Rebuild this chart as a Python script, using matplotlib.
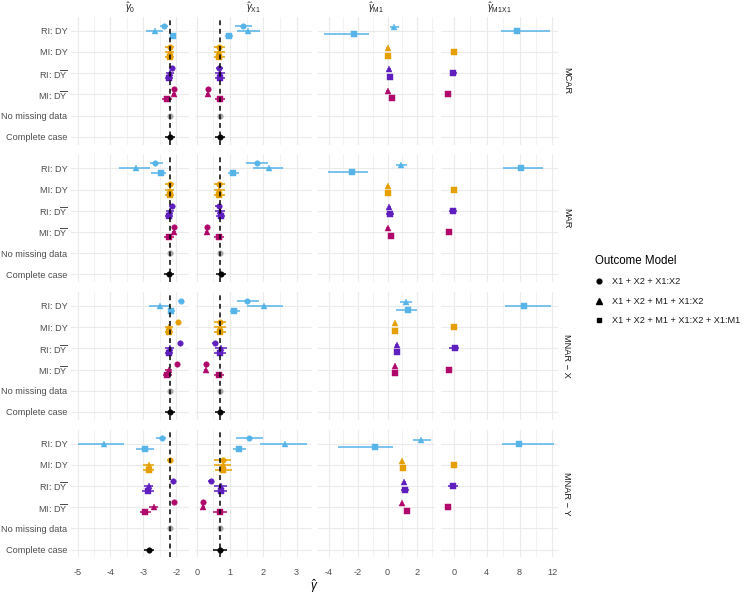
import numpy as np
import matplotlib
matplotlib.use("Agg")
import matplotlib.pyplot as plt
from matplotlib.lines import Line2D

plt.rcParams['font.family'] = ['Liberation Sans', 'DejaVu Sans']
plt.rcParams['mathtext.fontset'] = 'custom'
plt.rcParams['mathtext.rm'] = 'Liberation Sans'
plt.rcParams['mathtext.it'] = 'Liberation Sans:italic'
plt.rcParams['mathtext.bf'] = 'Liberation Sans:bold'

N = np.nan

mechanisms = ['MCAR', 'MAR', 'MNAR \u2212 X', 'MNAR \u2212 Y']
methods = ['RI: DY', 'MI: DY', r'RI: D$\overline{\mathrm{Y}}$', r'MI: D$\overline{\mathrm{Y}}$',
           'No missing data', 'Complete case']
models = ['X1 + X2 + X1:X2', 'X1 + X2 + M1 + X1:X2', 'X1 + X2 + M1 + X1:X2 + X1:M1']
params = [r'$\hat{\gamma}_{0}$', r'$\hat{\gamma}_{\mathrm{X1}}$',
          r'$\hat{\gamma}_{\mathrm{M1}}$', r'$\hat{\gamma}_{\mathrm{M1X1}}$']
true_values = [-2.2, 0.7, N, N]

# gamma_0 : [mechanism][method][model]
g0_est = [
    [[-2.38, -2.66, -2.10], [-2.20, -2.20, -2.20], [-2.13, -2.20, -2.22], [-2.08, -2.08, -2.28], [-2.20, N, N], [-2.20, N, N]],
    [[-2.64, -3.23, -2.48], [-2.20, -2.20, -2.20], [-2.12, -2.20, -2.22], [-2.08, -2.07, -2.22], [-2.20, N, N], [-2.22, N, N]],
    [[-1.87, -2.51, -2.15], [-1.95, -2.22, -2.22], [-1.90, -2.20, -2.22], [-1.97, -2.23, -2.27], [-2.20, N, N], [-2.20, N, N]],
    [[-2.42, -4.19, -2.96], [-2.20, -2.84, -2.84], [-2.10, -2.84, -2.86], [-2.07, -2.69, -2.94], [-2.20, N, N], [-2.84, N, N]],
]
g0_lo = [
    [[-2.51, -2.91, -2.20], [-2.33, -2.33, -2.33], [-2.22, -2.32, -2.34], [-2.13, -2.14, -2.42], [-2.25, N, N], [-2.35, N, N]],
    [[-2.81, -3.75, -2.76], [-2.33, -2.33, -2.33], [-2.21, -2.32, -2.34], [-2.13, -2.13, -2.36], [-2.25, N, N], [-2.37, N, N]],
    [[-1.95, -2.84, -2.26], [-2.00, -2.35, -2.35], [-1.95, -2.33, -2.35], [-2.02, -2.34, -2.40], [-2.25, N, N], [-2.35, N, N]],
    [[-2.61, -5.00, -3.23], [-2.28, -3.00, -3.00], [-2.16, -2.98, -3.05], [-2.12, -2.82, -3.10], [-2.25, N, N], [-2.99, N, N]],
]
g0_hi = [
    [[-2.26, -2.41, -2.00], [-2.07, -2.07, -2.07], [-2.04, -2.08, -2.10], [-2.03, -2.02, -2.14], [-2.15, N, N], [-2.05, N, N]],
    [[-2.39, -2.81, -2.30], [-2.07, -2.07, -2.07], [-2.03, -2.08, -2.10], [-2.03, -2.01, -2.08], [-2.15, N, N], [-2.07, N, N]],
    [[-1.78, -2.20, -2.05], [-1.90, -2.09, -2.09], [-1.85, -2.07, -2.09], [-1.92, -2.12, -2.14], [-2.15, N, N], [-2.05, N, N]],
    [[-2.30, -3.60, -2.69], [-2.12, -2.68, -2.68], [-2.04, -2.70, -2.67], [-2.02, -2.56, -2.78], [-2.15, N, N], [-2.69, N, N]],
]

# gamma_X1
gx_est = [
    [[1.40, 1.55, 0.98], [0.68, 0.68, 0.68], [0.68, 0.70, 0.70], [0.33, 0.33, 0.70], [0.70, N, N], [0.70, N, N]],
    [[1.82, 2.17, 1.08], [0.68, 0.68, 0.68], [0.66, 0.70, 0.72], [0.30, 0.30, 0.68], [0.70, N, N], [0.72, N, N]],
    [[1.50, 2.03, 1.13], [0.70, 0.70, 0.70], [0.55, 0.72, 0.70], [0.27, 0.27, 0.68], [0.70, N, N], [0.70, N, N]],
    [[1.58, 2.65, 1.28], [0.78, 0.78, 0.80], [0.43, 0.72, 0.72], [0.20, 0.20, 0.70], [0.70, N, N], [0.70, N, N]],
]
gx_lo = [
    [[1.15, 1.20, 0.85], [0.51, 0.51, 0.51], [0.57, 0.56, 0.56], [0.28, 0.28, 0.55], [0.66, N, N], [0.55, N, N]],
    [[1.47, 1.70, 0.93], [0.51, 0.51, 0.51], [0.55, 0.56, 0.58], [0.25, 0.25, 0.53], [0.66, N, N], [0.57, N, N]],
    [[1.20, 1.50, 1.00], [0.53, 0.53, 0.53], [0.47, 0.54, 0.52], [0.22, 0.22, 0.53], [0.66, N, N], [0.55, N, N]],
    [[1.17, 1.90, 1.10], [0.53, 0.53, 0.55], [0.35, 0.52, 0.52], [0.15, 0.15, 0.50], [0.66, N, N], [0.50, N, N]],
]
gx_hi = [
    [[1.65, 1.90, 1.10], [0.85, 0.85, 0.85], [0.79, 0.84, 0.84], [0.38, 0.38, 0.85], [0.74, N, N], [0.85, N, N]],
    [[2.13, 2.60, 1.27], [0.85, 0.85, 0.85], [0.77, 0.84, 0.86], [0.35, 0.35, 0.83], [0.74, N, N], [0.87, N, N]],
    [[1.87, 2.60, 1.30], [0.87, 0.87, 0.87], [0.63, 0.90, 0.88], [0.32, 0.32, 0.83], [0.74, N, N], [0.85, N, N]],
    [[2.00, 3.32, 1.47], [1.03, 1.03, 1.05], [0.51, 0.92, 0.92], [0.25, 0.25, 0.90], [0.74, N, N], [0.90, N, N]],
]

# gamma_M1
gm_est = [
    [[N, 0.46, -2.25], [N, 0.00, 0.00], [N, 0.12, 0.17], [N, 0.01, 0.28], [N, N, N], [N, N, N]],
    [[N, 0.92, -2.43], [N, 0.00, 0.00], [N, 0.12, 0.17], [N, 0.00, 0.24], [N, N, N], [N, N, N]],
    [[N, 1.23, 1.37], [N, 0.51, 0.51], [N, 0.64, 0.66], [N, 0.51, 0.51], [N, N, N], [N, N, N]],
    [[N, 2.29, -0.85], [N, 1.00, 1.03], [N, 1.14, 1.19], [N, 1.00, 1.30], [N, N, N], [N, N, N]],
]
gm_lo = [
    [[N, 0.17, -4.31], [N, -0.08, -0.08], [N, 0.02, -0.05], [N, -0.07, 0.16], [N, N, N], [N, N, N]],
    [[N, 0.56, -4.01], [N, -0.08, -0.08], [N, 0.02, -0.10], [N, -0.08, 0.12], [N, N, N], [N, N, N]],
    [[N, 0.85, 0.58], [N, 0.43, 0.43], [N, 0.54, 0.50], [N, 0.43, 0.43], [N, N, N], [N, N, N]],
    [[N, 1.75, -3.34], [N, 0.92, 0.95], [N, 1.04, 0.90], [N, 0.92, 1.18], [N, N, N], [N, N, N]],
]
gm_hi = [
    [[N, 0.80, -1.23], [N, 0.08, 0.08], [N, 0.22, 0.39], [N, 0.09, 0.40], [N, N, N], [N, N, N]],
    [[N, 1.30, -1.34], [N, 0.08, 0.08], [N, 0.22, 0.44], [N, 0.08, 0.36], [N, N, N], [N, N, N]],
    [[N, 1.68, 2.02], [N, 0.59, 0.59], [N, 0.74, 0.82], [N, 0.59, 0.59], [N, N, N], [N, N, N]],
    [[N, 2.93, 0.35], [N, 1.08, 1.11], [N, 1.24, 1.48], [N, 1.08, 1.42], [N, N, N], [N, N, N]],
]

# gamma_M1X1
gmx_est = [
    [[N, N, 7.69], [N, N, 0.00], [N, N, -0.12], [N, N, -0.69], [N, N, N], [N, N, N]],
    [[N, N, 8.14], [N, N, 0.00], [N, N, -0.16], [N, N, -0.65], [N, N, N], [N, N, N]],
    [[N, N, 8.55], [N, N, 0.00], [N, N, 0.16], [N, N, -0.65], [N, N, N], [N, N, N]],
    [[N, N, 7.94], [N, N, 0.00], [N, N, -0.08], [N, N, -0.69], [N, N, N], [N, N, N]],
]
gmx_lo = [
    [[N, N, 5.74], [N, N, -0.15], [N, N, -0.55], [N, N, -0.85], [N, N, N], [N, N, N]],
    [[N, N, 6.02], [N, N, -0.15], [N, N, -0.65], [N, N, -0.81], [N, N, N], [N, N, N]],
    [[N, N, 6.23], [N, N, -0.15], [N, N, -0.57], [N, N, -0.81], [N, N, N], [N, N, N]],
    [[N, N, 5.82], [N, N, -0.15], [N, N, -0.68], [N, N, -0.85], [N, N, N], [N, N, N]],
]
gmx_hi = [
    [[N, N, 11.72], [N, N, 0.15], [N, N, 0.35], [N, N, -0.53], [N, N, N], [N, N, N]],
    [[N, N, 10.83], [N, N, 0.15], [N, N, 0.33], [N, N, -0.49], [N, N, N], [N, N, N]],
    [[N, N, 11.80], [N, N, 0.15], [N, N, 0.65], [N, N, -0.49], [N, N, N], [N, N, N]],
    [[N, N, 12.20], [N, N, 0.15], [N, N, 0.45], [N, N, -0.53], [N, N, N], [N, N, N]],
]

all_est = [g0_est, gx_est, gm_est, gmx_est]
all_lo = [g0_lo, gx_lo, gm_lo, gmx_lo]
all_hi = [g0_hi, gx_hi, gm_hi, gmx_hi]

x_limits = [(-5.20, -1.63), (-0.066, 3.46), (-4.75, 3.22), (-1.65, 12.70)]
x_breaks = [[-5, -4, -3, -2], [0, 1, 2, 3], [-4, -2, 0, 2], [0, 4, 8, 12]]
x_minor = [[-4.5, -3.5, -2.5], [0.5, 1.5, 2.5], [-3, -1, 1, 3], [2, 6, 10]]

method_colors = ['#56B4E9', '#E69F00', '#5F1EBE', '#B0086A', '#A8A8A8', '#000000']
model_markers = ['o', '^', 's']
model_ms = [4.0, 4.6, 4.0]

W, H = 750, 596
fig = plt.figure(figsize=(W / 100, H / 100), dpi=100)
fig.patch.set_facecolor('white')

col_left = [71, 194.5, 317.5, 440.5]
col_w = 117.5
row_top0 = 16.7
row_step = 137.6
row_h = 127.8
lvl_px = 21.2
top_pad = 14.0
bot_pad = 7.8

grid_c = '#EBEBEB'
dodge = {3: [-0.236, 0.0, 0.236], 2: [-0.177, 0.177], 1: [0.0]}

for r, mech in enumerate(mechanisms):
    top = row_top0 + r * row_step
    for c in range(4):
        l = col_left[c]
        ax = fig.add_axes([l / W, 1 - (top + row_h) / H, col_w / W, row_h / H])
        ax.set_facecolor('white')
        for s in ax.spines.values():
            s.set_visible(False)
        ax.set_xlim(*x_limits[c])
        ax.set_ylim(5 + bot_pad / lvl_px, -top_pad / lvl_px)
        for xm in x_minor[c]:
            ax.axvline(xm, color=grid_c, lw=0.45, zorder=0)
        for xb in x_breaks[c]:
            ax.axvline(xb, color=grid_c, lw=0.85, zorder=0)
        for yi in range(len(methods)):
            ax.axhline(yi, color=grid_c, lw=0.85, zorder=0)
        est = all_est[c][r]
        lo = all_lo[c][r]
        hi = all_hi[c][r]
        for i in range(len(methods)):
            present = [k for k in range(3) if not np.isnan(est[i][k])]
            offs = dodge.get(len(present), [])
            for k, off in zip(present, offs):
                y = i + off
                ax.plot([lo[i][k], hi[i][k]], [y, y], color=method_colors[i], lw=1.1,
                        solid_capstyle='butt', zorder=2)
                ax.plot([est[i][k]], [y], marker=model_markers[k], ms=model_ms[k],
                        color=method_colors[i], mec=method_colors[i], mew=0.3,
                        linestyle='none', zorder=3)
        if not np.isnan(true_values[c]):
            ax.axvline(true_values[c], color='black', lw=1.1, linestyle=(0, (3.2, 2.4)), zorder=5)
        ax.set_xticks(x_breaks[c])
        ax.set_yticks(range(len(methods)))
        ax.tick_params(length=0, labelsize=6.6, labelcolor='#4D4D4D')
        ax.tick_params(axis='x', pad=7.5)
        ax.tick_params(axis='y', pad=2.5)
        if c == 0:
            ax.set_yticklabels(methods)
        else:
            ax.set_yticklabels([])
        if r == len(mechanisms) - 1:
            ax.set_xticklabels([str(b) for b in x_breaks[c]])
        else:
            ax.set_xticklabels([])
        if r == 0:
            fig.text((l + col_w / 2) / W, 1 - 7.5 / H, params[c], ha='center', va='center',
                     fontsize=7.0, color='#1A1A1A')
    fig.text(567 / W, 1 - (top + row_h / 2) / H, mech, rotation=-90, ha='center', va='center',
             fontsize=6.7, color='#1A1A1A')

fig.text(314.5 / W, 1 - 586 / H, r'$\hat{\gamma}$', ha='center', va='center',
         fontsize=8.5, color='black')

handles = [Line2D([], [], marker=model_markers[k], color='black', linestyle='none',
                  ms=model_ms[k] - 0.6) for k in range(3)]
leg = fig.legend(handles, models, title='Outcome Model', loc='upper left',
                 bbox_to_anchor=(591 / W, 1 - 251 / H), frameon=False,
                 fontsize=6.6, title_fontsize=8.3, alignment='left',
                 handlelength=1.0, handletextpad=0.9, labelspacing=1.15, borderaxespad=0)
for t in leg.get_texts():
    t.set_color('#1A1A1A')

fig.savefig('out.png', dpi=100, facecolor='white')
